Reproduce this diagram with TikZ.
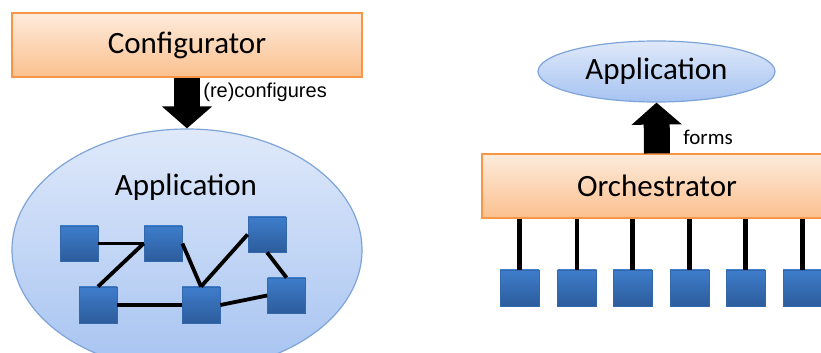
\documentclass[tikz,border=0pt]{standalone}
\usepackage{fontspec}
\setmainfont{Carlito}
\newfontfamily\labelfont{Liberation Sans}
\usetikzlibrary{shapes.geometric,arrows.meta,calc}

\definecolor{orangetop}{HTML}{FDEBDC}
\definecolor{orangebot}{HTML}{FBC08E}
\definecolor{orangeline}{HTML}{F79646}
\definecolor{bluetop}{HTML}{DFE9FA}
\definecolor{bluebot}{HTML}{A6C3F1}
\definecolor{blueline}{HTML}{7EA4D8}
\definecolor{cubetop}{HTML}{3E7DCB}
\definecolor{cubebot}{HTML}{2C5C9C}
\definecolor{cubeline}{HTML}{3468AC}

\tikzset{
  manager/.style={rectangle, draw=orangeline, line width=0.6pt,
    top color=orangetop, bottom color=orangebot,
    minimum width=175pt, minimum height=32pt, inner sep=0pt,
    font=\fontsize{15.5}{18}\selectfont},
  appblob/.style={ellipse, draw=blueline, line width=0.6pt,
    top color=bluetop, bottom color=bluebot, inner sep=0pt},
  comp/.style={rectangle, draw=cubeline, line width=0.4pt,
    top color=cubetop, bottom color=cubebot,
    minimum width=19pt, minimum height=17.5pt, inner sep=0pt},
  link/.style={line width=1.9pt, black},
  drop/.style={line width=2.2pt, black},
  bigarrow/.style={line width=13.25pt, black,
    -{Triangle[width=24.5pt,length=11pt]}},
  title/.style={font=\fontsize{15.5}{18}\selectfont, inner sep=0pt},
  small/.style={font=\labelfont\fontsize{10}{12}\selectfont, inner sep=0pt},
  smallc/.style={font=\fontsize{10.5}{12}\selectfont, inner sep=0pt},
}

\begin{document}
\begin{tikzpicture}[x=0.5pt,y=-0.5pt]
\useasboundingbox (0,0) rectangle (821,353);
\clip (0,0) rectangle (821,353);
\fill[white] (0,0) rectangle (821,353);

% ---- configured application ----
\node[manager] (conf) at (187,45) {Configurator};
\node[appblob, minimum width=175pt, minimum height=121pt] (app) at (187,250) {};
\node[title] (apptxt) at (186,187) {Application};

\draw[bigarrow] (conf.south) -- (app.north);
\node[small, anchor=west] (reconf) at (203,92) {(re)configures};

\node[comp] (s1) at (79,243.5) {};
\node[comp] (s2) at (163,243.5) {};
\node[comp] (s3) at (267,234.5) {};
\node[comp, minimum height=18pt] (s4) at (98,305) {};
\node[comp, minimum height=18pt] (s5) at (201,305) {};
\node[comp] (s6) at (286.5,295.5) {};

\draw[link] (s1.east) -- (s2.west);
\draw[link] (s2.west) -- (s4.north);
\draw[link] (s2.east) -- (s5.north);
\draw[link] (s5.north) -- (s3.west);
\draw[link] (s3.south) -- (s6.north);
\draw[link] (s4.east) -- (s5.west);
\draw[link] (s5.east) -- (s6.west);

% ---- orchestrated application ----
\node[appblob, minimum width=118.5pt, minimum height=30.5pt,
      font=\fontsize{15.5}{18}\selectfont] (app2) at (656.5,71.5) {Application};
\node[manager] (orch) at (657,186) {Orchestrator};
\draw[bigarrow, line width=13pt] (orch.north) -- (app2.south);
\node[smallc, anchor=west] (forms) at (683,137) {forms};

\foreach \i/\x in {1/519.5, 2/577, 3/632.5, 4/689.5, 5/745.5, 6/802.5}{
  \node[comp, minimum width=19.5pt, minimum height=18pt] (c\i) at (\x,288) {};
  \draw[drop] (c\i.north) -- (c\i.north |- orch.south);
}
\end{tikzpicture}
\end{document}
